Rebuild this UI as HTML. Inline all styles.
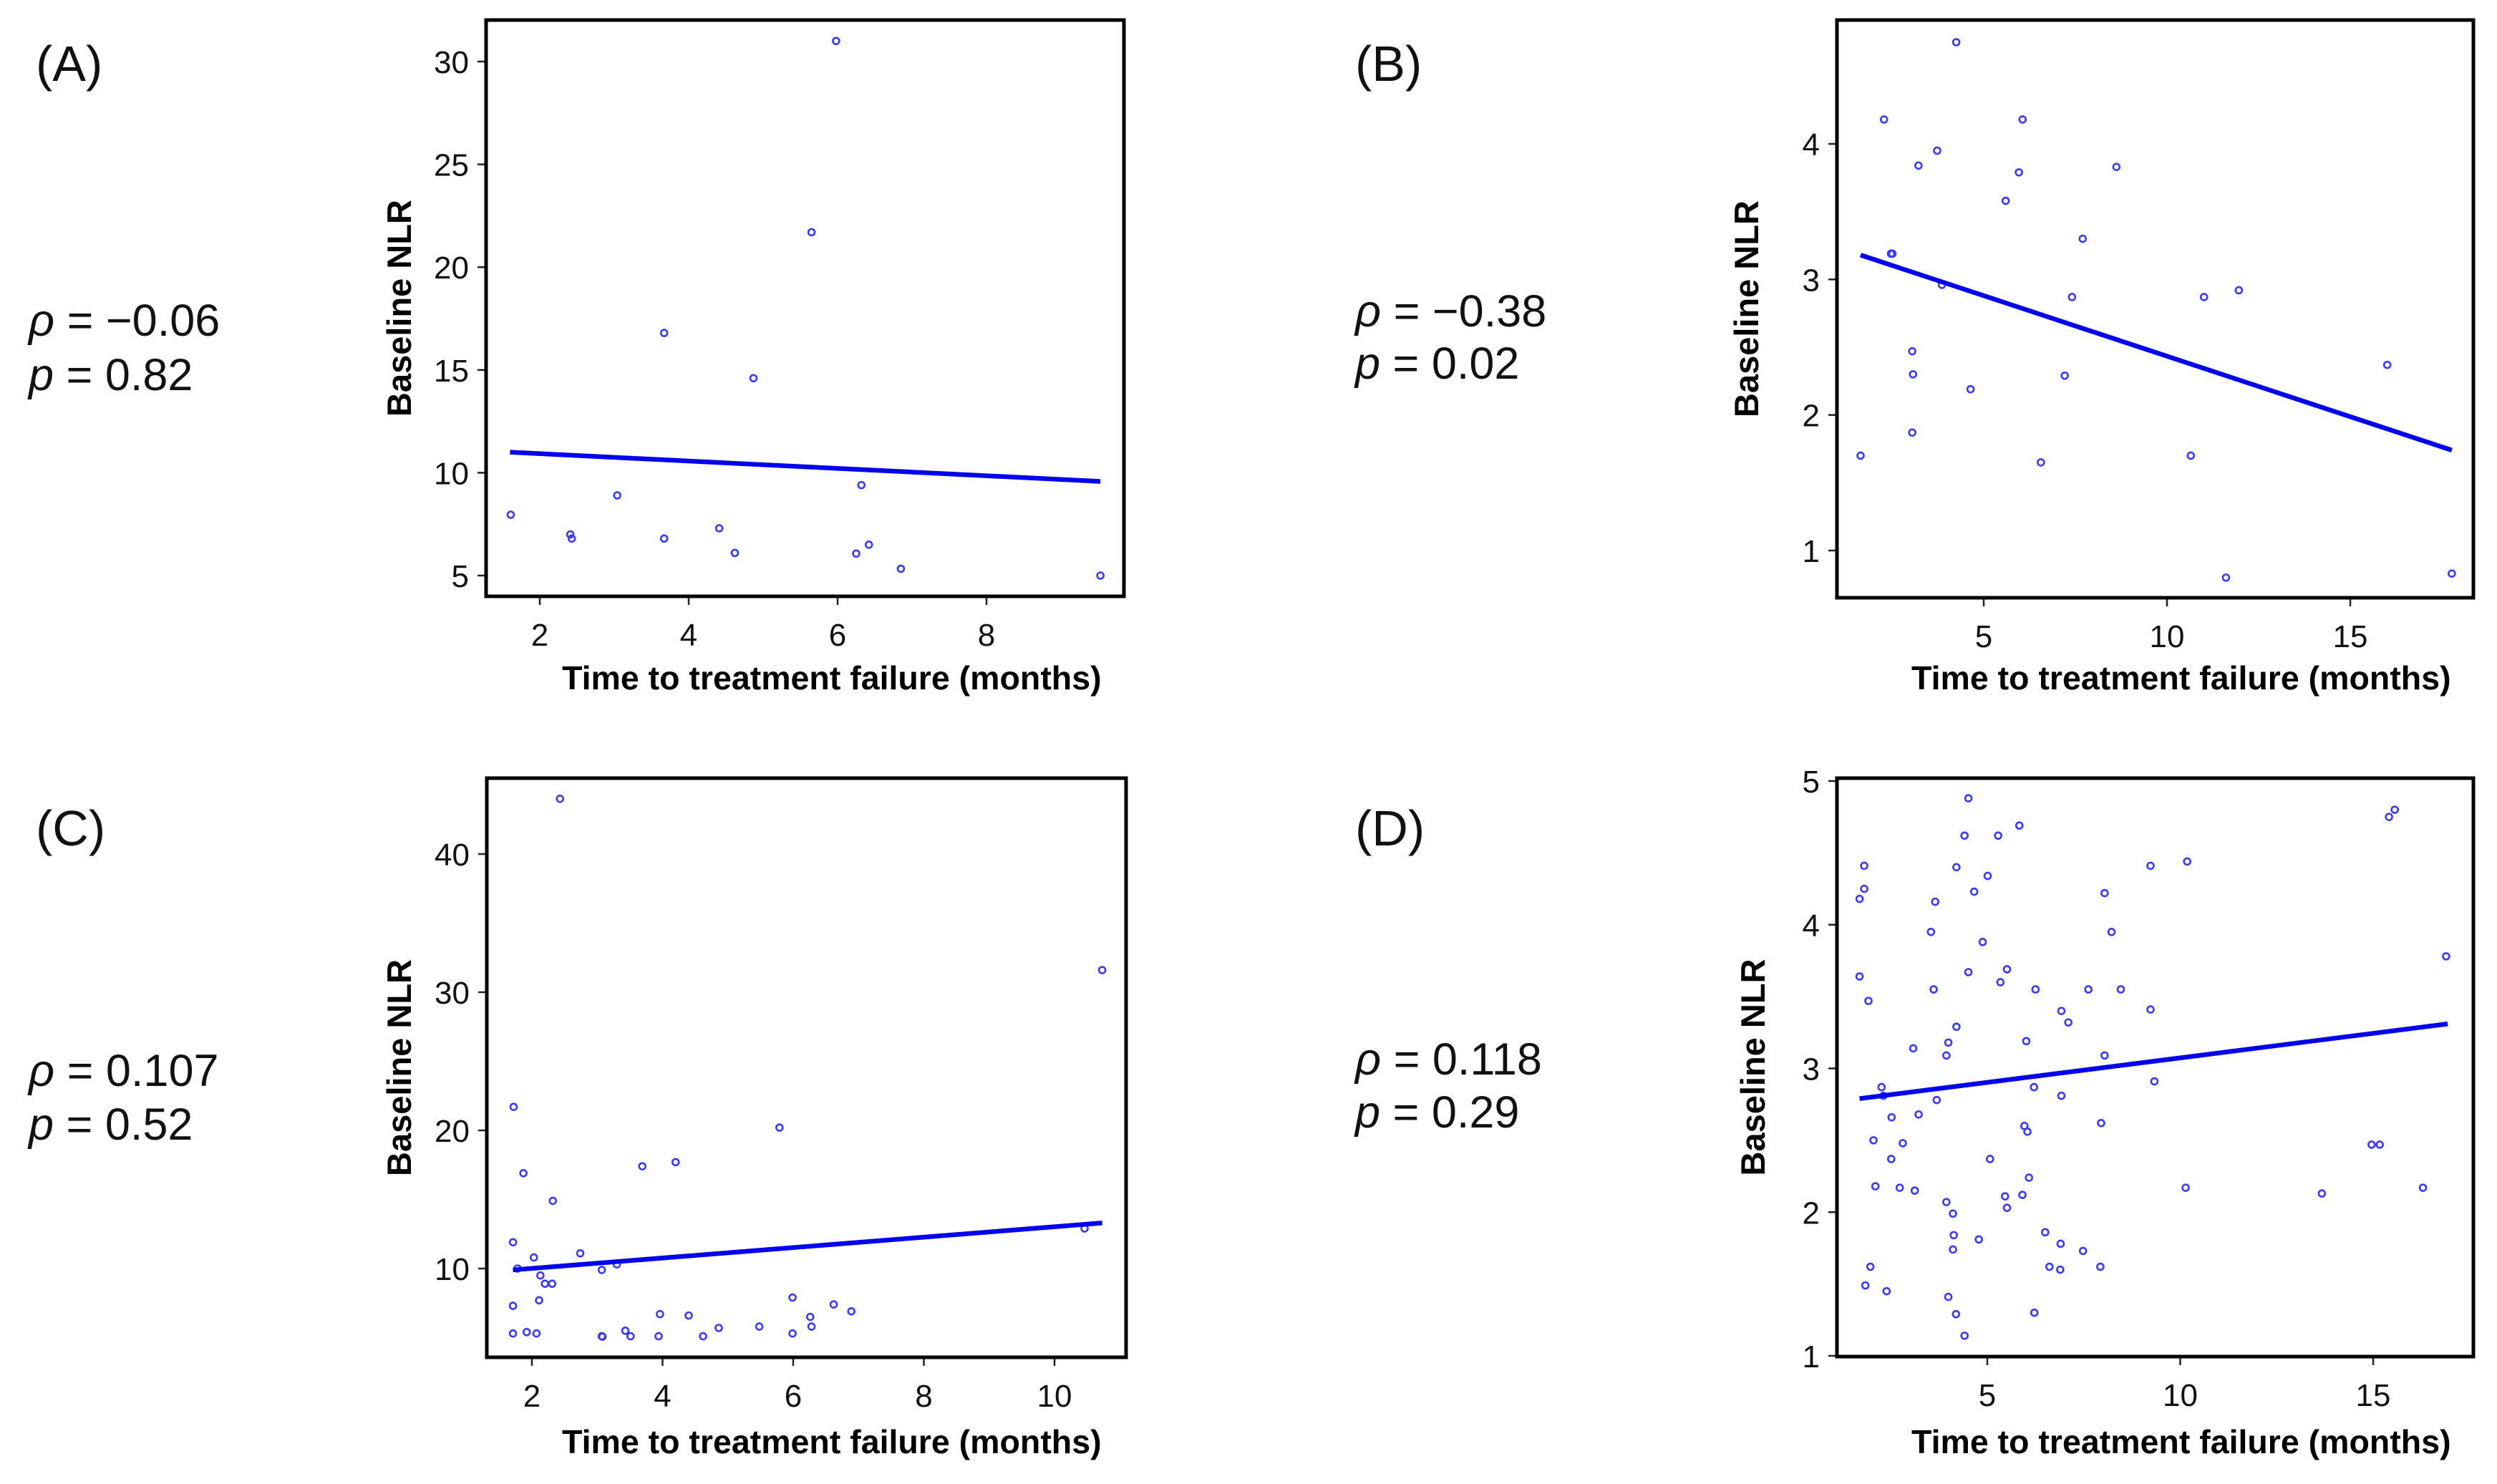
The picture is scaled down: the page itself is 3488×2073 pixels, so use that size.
<!DOCTYPE html>
<html><head><meta charset="utf-8"><style>
html,body{margin:0;padding:0;background:#fff;}
svg{display:block;font-family:"Liberation Sans",Arial,sans-serif;}
.lbl{font-size:70px;fill:#111;}
.stat{font-size:63px;fill:#111;}
.tick{font-size:44px;fill:#111;}
.ytitle,.xtitle{font-weight:bold;fill:#000;}
.ytitle{font-size:47px;}
.xtitle{font-size:46.5px;}
</style></head><body>
<svg id="fig" width="3488" height="2073" viewBox="0 0 3488 2073">
<text class="lbl" x="50" y="113">(A)</text>
<text class="stat" x="40" y="469"><tspan font-style="italic">ρ</tspan> = −0.06</text>
<text class="stat" x="40" y="545"><tspan font-style="italic">p</tspan> = 0.82</text>
<text class="lbl" x="1893" y="113">(B)</text>
<text class="stat" x="1893" y="456"><tspan font-style="italic">ρ</tspan> = −0.38</text>
<text class="stat" x="1893" y="529"><tspan font-style="italic">p</tspan> = 0.02</text>
<text class="lbl" x="50" y="1181">(C)</text>
<text class="stat" x="40" y="1517"><tspan font-style="italic">ρ</tspan> = 0.107</text>
<text class="stat" x="40" y="1592"><tspan font-style="italic">p</tspan> = 0.52</text>
<text class="lbl" x="1893" y="1181">(D)</text>
<text class="stat" x="1893" y="1501"><tspan font-style="italic">ρ</tspan> = 0.118</text>
<text class="stat" x="1893" y="1575"><tspan font-style="italic">p</tspan> = 0.29</text>
</svg>
<script>
// Panel A data
const aX = [1.61,2.41,2.43,3.04,3.67,3.67,4.41,4.62,4.87,5.65,5.98,6.25,6.32,6.42,6.85,9.53];
const aY = [7.96,7.0,6.8,8.9,16.8,6.8,7.3,6.1,14.6,21.7,31.0,6.07,9.4,6.5,5.33,5.0];
const aFitX = [1.6,9.53];
const aFitY = [11.0,9.58];
const aXTicks = [2,4,6,8];
const aYTicks = [5,10,15,20,25,30];
// Panel B data
const bX = [1.64,2.28,2.47,2.51,3.05,3.07,3.05,3.22,3.73,3.86,4.25,4.64,5.6,5.96,6.06,6.56,7.21,7.41,7.70,8.62,10.65,11.01,11.61,11.96,16.01,17.77];
const bY = [1.70,4.18,3.19,3.19,2.47,2.30,1.87,3.84,3.95,2.96,4.75,2.19,3.58,3.79,4.18,1.65,2.29,2.87,3.30,3.83,1.70,2.87,0.80,2.92,2.37,0.83];
const bFitX = [1.64,17.77];
const bFitY = [3.18,1.74];
const bXTicks = [5,10,15];
const bYTicks = [1,2,3,4];
// Panel C data
const cX = [2.43,10.73,1.72,5.79,1.87,3.69,4.20,2.32,1.71,2.03,2.74,1.78,3.07,3.30,2.13,2.20,2.31,1.71,2.11,5.99,6.62,6.89,3.96,4.40,6.26,6.28,5.48,4.86,1.71,1.92,2.07,3.07,3.08,3.43,3.51,3.94,4.62,5.99,10.46];
const cY = [44.0,31.6,21.7,20.2,16.9,17.4,17.7,14.9,11.9,10.8,11.1,10.0,9.9,10.3,9.5,8.9,8.9,7.3,7.7,7.9,7.4,6.9,6.7,6.6,6.5,5.8,5.8,5.7,5.3,5.4,5.3,5.1,5.07,5.5,5.1,5.1,5.1,5.3,12.9];
const cFitX = [1.71,10.73];
const cFitY = [9.9,13.3];
const cXTicks = [2,4,6,8,10];
const cYTicks = [10,20,30,40];
// Panel D data
const dX = [1.69,1.81,1.81,1.69,1.92,2.26,2.31,2.52,2.05,2.51,2.81,2.10,2.73,3.12,3.08,3.22,3.69,3.54,3.65,3.61,3.94,3.99,4.20,3.94,4.11,4.13,4.11,4.78,1.97,1.84,2.39,3.99,4.19,4.41,4.41,4.51,4.20,4.66,5.01,4.88,4.51,5.34,5.28,5.51,5.83,6.25,6.01,6.21,5.96,6.04,5.07,6.08,5.46,5.51,5.91,6.50,6.61,6.90,6.89,7.48,7.93,6.22,6.92,7.10,6.92,7.62,8.04,8.22,8.46,8.04,7.95,9.23,9.23,9.33,10.18,10.14,13.67,14.96,15.17,15.41,15.56,16.29,16.89];
const dY = [4.18,4.41,4.25,3.64,3.47,2.87,2.81,2.66,2.50,2.37,2.48,2.18,2.17,2.15,3.14,2.68,2.78,3.95,4.16,3.55,3.09,3.18,3.29,2.07,1.99,1.84,1.74,1.81,1.62,1.49,1.45,1.41,1.29,1.14,4.62,4.88,4.40,4.23,4.34,3.88,3.67,3.60,4.62,3.69,4.69,3.55,3.19,2.87,2.60,2.56,2.37,2.24,2.11,2.03,2.12,1.86,1.62,1.78,1.60,1.73,1.62,1.30,3.40,3.32,2.81,3.55,4.22,3.95,3.55,3.09,2.62,4.41,3.41,2.91,4.44,2.17,2.13,2.47,2.47,4.75,4.80,2.17,3.78];
const dFitX = [1.69,16.93];
const dFitY = [2.79,3.31];
const dXTicks = [5,10,15];
const dYTicks = [1,2,3,4,5];

const NS = 'http://www.w3.org/2000/svg';
const svg = document.getElementById('fig');
function mk(tag, attrs, parent){
  const e = document.createElementNS(NS, tag);
  for (const k in attrs) e.setAttribute(k, attrs[k]);
  (parent||svg).appendChild(e);
  return e;
}
function lin(d0,d1,p0,p1){ return v => p0 + (v-d0)*(p1-p0)/(d1-d0); }

function panel(id, box, xs, ys, xt, yt, xs0, ys0, fx, fy, ytitleX, xtitleX, xtitleY){
  const g = mk('g', {});
  
  
  const sx = lin(xs0[0], xs0[1], xs0[2], xs0[3]);
  const sy = lin(ys0[0], ys0[1], ys0[2], ys0[3]);
  xt.forEach(t => {
    const tl = mk('line', {x1:sx(t), x2:sx(t), y1:box.b, y2:box.b+12, stroke:'#222', 'stroke-width':2.5}, g);
    
    
    const tx = mk('text', {x:sx(t), y:box.b+69, 'text-anchor':'middle', class:'tick'}, g);
    tx.textContent = t;
    
    
  });
  yt.forEach(t => {
    const tl = mk('line', {x1:box.l-12, x2:box.l, y1:sy(t), y2:sy(t), stroke:'#222', 'stroke-width':2.5}, g);
    
    
    const tx = mk('text', {x:box.l-24, y:sy(t)+16, 'text-anchor':'end', class:'tick'}, g);
    tx.textContent = t;
    
    
  });
  xs.forEach((x,i) => {
    const c = mk('circle', {cx:sx(x), cy:sy(ys[i]), r:4.5, fill:'none', stroke:'#3a3aff', 'stroke-width':2.6}, g);
    
    
  });
  const fl = mk('line', {x1:sx(fx[0]), y1:sy(fy[0]), x2:sx(fx[1]), y2:sy(fy[1]), stroke:'#0000ee', 'stroke-width':6.5}, g);
  
  
  const r = mk('rect', {x:box.l, y:box.t, width:box.r-box.l, height:box.b-box.t, fill:'none', stroke:'#000', 'stroke-width':5}, g);
  
  
  const cy = (box.t+box.b)/2;
  const yt2 = mk('text', {x:ytitleX, y:cy, class:'ytitle', 'text-anchor':'middle', transform:'rotate(-90 '+ytitleX+' '+cy+')'}, g);
  yt2.textContent = 'Baseline NLR';
  
  
  const xt2 = mk('text', {x:xtitleX, y:xtitleY, class:'xtitle'}, g);
  xt2.textContent = 'Time to treatment failure (months)';
  
  
}

panel('a', {l:679,r:1570,t:28,b:833}, aX, aY, aXTicks, aYTicks, [2,8,754,1378], [5,30,804,86], aFitX, aFitY, 574, 785, 963);
panel('b', {l:2566,r:3455,t:28,b:835}, bX, bY, bXTicks, bYTicks, [5,15,2771,3283], [1,4,769,201], bFitX, bFitY, 2456, 2670, 963);
panel('c', {l:680,r:1573,t:1087,b:1896}, cX, cY, cXTicks, cYTicks, [2,10,743,1473], [10,40,1772,1193], cFitX, cFitY, 574, 785, 2030);
panel('d', {l:2566,r:3455,t:1087,b:1895}, dX, dY, dXTicks, dYTicks, [5,15,2776,3315], [1,5,1894,1091], dFitX, dFitY, 2465, 2670, 2030);
</script>
</body></html>
